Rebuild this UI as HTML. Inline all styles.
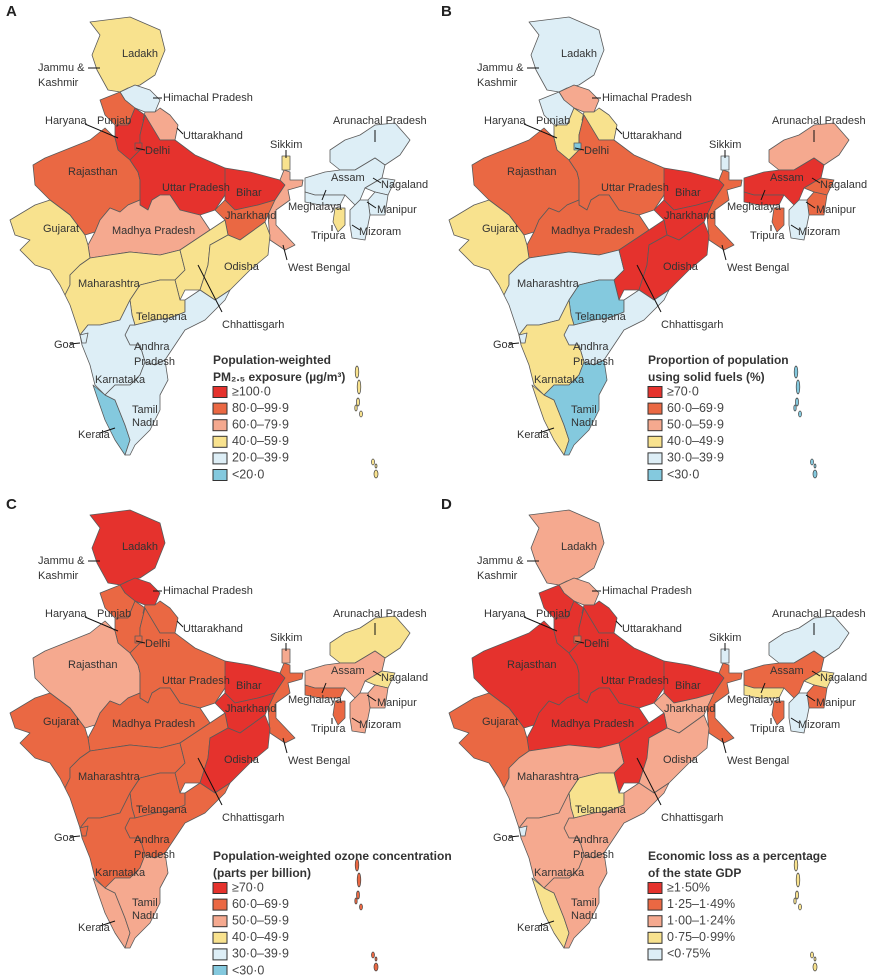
<!DOCTYPE html>
<html><head><meta charset="utf-8"><style>
body{margin:0;background:#fff;}
svg{display:block;font-family:"Liberation Sans",sans-serif;}
</style></head><body>
<svg id="c" width="870" height="975" viewBox="0 0 870 975"></svg>
<script>
const palette=["#e5322d","#ea6843","#f5a98f","#f8e28e","#ddeef6","#84c9de"];
const stateNames=["Jammu & Kashmir","Himachal Pradesh","Punjab","Haryana","Uttarakhand","Rajasthan","Uttar Pradesh","Bihar","Jharkhand","West Bengal","Sikkim","Madhya Pradesh","Gujarat","Maharashtra","Chhattisgarh","Odisha","Telangana","Andhra Pradesh","Karnataka","Goa","Kerala","Tamil Nadu","Arunachal Pradesh","Assam","Meghalaya","Nagaland","Manipur","Mizoram","Tripura","Delhi"];
const catsA=[3,4,1,0,2,1,0,0,1,2,3,2,3,3,3,3,3,4,4,4,5,4,4,4,4,4,4,4,3,0];
const catsB=[4,2,4,3,3,1,1,0,0,1,4,1,3,4,0,0,5,4,3,4,3,5,2,0,0,1,1,4,1,5];
const catsC=[0,0,1,1,1,2,1,0,0,1,2,1,1,1,1,0,1,1,1,1,2,2,3,2,1,3,2,2,1,1];
const catsD=[2,2,0,0,0,0,0,0,2,1,4,0,1,2,0,2,3,2,2,4,3,2,4,1,3,3,1,4,1,1];
const islandCats=[3,5,1,3];
const legA=["≥100·0","80·0–99·9","60·0–79·9","40·0–59·9","20·0–39·9","<20·0"];
const legB=["≥70·0","60·0–69·9","50·0–59·9","40·0–49·9","30·0–39·9","<30·0"];
const legC=["≥70·0","60·0–69·9","50·0–59·9","40·0–49·9","30·0–39·9","<30·0"];
const legD=["≥1·50%","1·25–1·49%","1·00–1·24%","0·75–0·99%","<0·75%"];

const shapes=[
[[90,22],[130,17],[160,30],[165,50],[155,75],[140,85],[128,88],[120,92],[108,90],[97,70],[92,55],[100,35]],
[[120,92],[135,85],[150,90],[160,100],[155,112],[145,112],[135,108],[125,100]],
[[100,100],[120,92],[125,100],[135,108],[128,125],[115,125],[105,115]],
[[115,125],[128,125],[135,108],[145,115],[140,135],[140,150],[130,160],[118,150],[115,138]],
[[145,112],[155,112],[160,108],[170,115],[178,125],[175,140],[160,140],[150,130],[143,120]],
[[33,165],[45,158],[60,152],[90,140],[105,128],[115,138],[118,150],[130,160],[138,172],[140,180],[140,200],[128,205],[120,212],[110,208],[100,220],[95,232],[85,235],[70,215],[50,200],[35,185]],
[[140,135],[145,115],[160,140],[175,140],[195,155],[225,168],[232,175],[225,195],[215,210],[200,215],[180,210],[170,195],[160,195],[152,200],[148,210],[140,205],[140,180],[138,172],[130,160],[140,150]],
[[225,168],[250,172],[280,180],[285,185],[275,200],[258,205],[235,210],[225,200]],
[[215,210],[225,200],[235,210],[258,205],[275,200],[268,215],[265,222],[240,240],[228,235],[225,220]],
[[280,180],[284,170],[290,172],[290,180],[303,180],[302,186],[288,190],[290,200],[276,210],[276,225],[295,245],[285,250],[270,240],[268,215],[275,200],[285,185]],
[[282,156],[290,156],[290,170],[282,170]],
[[95,232],[100,220],[110,208],[120,212],[128,205],[140,200],[140,205],[148,210],[152,200],[160,195],[170,195],[180,210],[200,215],[210,230],[195,240],[180,250],[160,255],[130,252],[110,255],[90,258],[88,245]],
[[10,220],[35,205],[50,200],[70,215],[85,235],[88,245],[90,258],[80,265],[70,275],[70,285],[65,295],[60,285],[50,270],[35,265],[20,250],[30,240],[15,235]],
[[65,295],[70,285],[70,275],[80,265],[90,258],[110,255],[130,252],[160,255],[180,250],[185,270],[175,280],[160,280],[140,285],[130,300],[120,320],[100,325],[88,325],[80,335],[75,320],[70,305]],
[[180,250],[195,240],[210,230],[225,220],[228,235],[210,245],[208,265],[200,290],[185,290],[180,300],[175,280],[185,270]],
[[208,265],[210,245],[228,235],[240,240],[265,222],[270,235],[268,255],[250,270],[230,290],[215,300],[200,290]],
[[130,300],[140,285],[160,280],[175,280],[180,300],[185,300],[185,312],[170,318],[155,320],[135,325],[132,315]],
[[185,312],[185,300],[200,290],[215,300],[230,290],[225,300],[205,320],[185,330],[175,345],[165,360],[155,365],[145,362],[140,345],[130,345],[125,335],[130,325],[135,325],[155,320],[170,318]],
[[88,325],[100,325],[120,320],[130,300],[132,315],[135,325],[130,325],[125,335],[130,345],[140,345],[145,362],[140,375],[130,385],[115,385],[105,395],[95,385],[90,365],[82,345],[80,335]],
[[80,335],[88,333],[86,343],[82,343]],
[[93,385],[105,395],[115,400],[125,425],[130,440],[125,455],[115,440],[105,420],[98,400]],
[[105,395],[115,385],[130,385],[140,375],[145,362],[155,365],[165,360],[168,380],[160,395],[160,410],[150,430],[135,445],[130,455],[125,455],[130,440],[125,425],[115,400]],
[[330,150],[345,140],[360,135],[375,125],[395,123],[410,140],[400,155],[385,165],[375,158],[355,170],[340,170],[330,162]],
[[305,178],[325,172],[340,170],[355,170],[375,158],[385,165],[382,178],[365,188],[360,200],[355,205],[345,195],[330,195],[315,195],[305,192]],
[[305,192],[315,195],[330,195],[345,195],[340,205],[320,205],[305,202]],
[[382,178],[395,180],[388,195],[375,192],[365,188]],
[[375,192],[388,195],[385,215],[370,215],[368,200]],
[[350,210],[360,200],[368,200],[370,215],[365,240],[352,238],[350,225]],
[[335,208],[345,208],[345,225],[338,232],[333,222]],
[[135,143],[142,143],[142,150],[135,150]]
];
const labels=[
["Ladakh",140,54,"middle"],["Jammu &",38,68,"start"],["Kashmir",38,83,"start"],["Himachal Pradesh",163,98,"start"],
["Haryana",45,121,"start"],["Punjab",97,121,"start"],["Delhi",145,151,"start"],["Uttarakhand",183,136,"start"],
["Arunachal Pradesh",333,121,"start"],["Sikkim",270,145,"start"],["Assam",331,178,"start"],["Nagaland",381,185,"start"],
["Meghalaya",288,207,"start"],["Manipur",377,210,"start"],["Tripura",311,236,"start"],["Mizoram",359,232,"start"],
["Rajasthan",68,172,"start"],["Uttar Pradesh",162,188,"start"],["Bihar",236,193,"start"],["Jharkhand",225,216,"start"],
["Gujarat",43,229,"start"],["Madhya Pradesh",112,231,"start"],["Odisha",224,267,"start"],["West Bengal",288,268,"start"],
["Maharashtra",78,284,"start"],["Telangana",136,317,"start"],["Chhattisgarh",222,325,"start"],["Goa",54,345,"start"],
["Andhra",134,347,"start"],["Pradesh",134,362,"start"],["Karnataka",95,380,"start"],["Tamil",132,410,"start"],["Nadu",132,423,"start"],["Kerala",78,435,"start"]
];
const leaders=[[88,68,100,68],[153,98,162,98],[85,124,118,138],[136,148,145,150],[177,128,183,134],[375,130,375,142],[286,150,286,158],[373,178,381,183],[326,190,322,200],[367,202,376,208],[332,225,332,231],[352,225,360,230],[283,245,287,260],[198,265,222,312],[70,344,80,343],[100,433,115,428]];
const islands=[[357,372,1.8,6],[359,387,1.8,7],[358,402,1.5,4],[356,408,1.2,3],[361,414,1.5,3],[373,462,1.5,3],[376,474,2,4],[376,466,1,2]];
const panels=[
{id:"a",letter:"A",dx:0,dy:0,cats:catsA,leg:legA,t1:"Population-weighted",t2:"PM₂.₅ exposure (µg/m³)",lx:213,ly:361},
{id:"b",letter:"B",dx:439,dy:0,cats:catsB,leg:legB,t1:"Proportion of population",t2:"using solid fuels (%)",lx:648,ly:361},
{id:"c",letter:"C",dx:0,dy:493,cats:catsC,leg:legC,t1:"Population-weighted ozone concentration",t2:"(parts per billion)",lx:213,ly:857},
{id:"d",letter:"D",dx:439,dy:493,cats:catsD,leg:legD,t1:"Economic loss as a percentage",t2:"of the state GDP",lx:648,ly:857}
];
const NS="http://www.w3.org/2000/svg";
const svg=document.getElementById("c");
function mk(tag,attrs,parent){const e=document.createElementNS(NS,tag);for(const k in attrs)e.setAttribute(k,attrs[k]);parent.appendChild(e);return e;}
panels.forEach((p,pi)=>{
  const g=mk("g",{transform:`translate(${p.dx},${p.dy})`},svg);
  
  
  const off=p.id==="b"||p.id==="d"?435:0;
  const L=mk("text",{x:6-(p.dx-off),y:16,"font-size":15,"font-weight":"bold",fill:"#222"},g);
  L.textContent=p.letter;
  
  
  shapes.forEach((s,i)=>{
    const pg=mk("polygon",{points:s.map(q=>q.join(",")).join(" "),fill:palette[p.cats[i]],stroke:"#5a5a5a","stroke-width":0.8,"stroke-linejoin":"round"},g);
    
    
  });
  islands.forEach(q=>{
    const e=mk("ellipse",{cx:q[0],cy:q[1],rx:q[2],ry:q[3],fill:palette[islandCats[pi]],stroke:"#444","stroke-width":0.7},g);
    
    
  });
  leaders.forEach(l=>{
    const ln=mk("line",{x1:l[0],y1:l[1],x2:l[2],y2:l[3],stroke:"#111","stroke-width":1},g);
    
    
  });
  labels.forEach(l=>{
    const t=mk("text",{x:l[1],y:l[2],"text-anchor":l[3],"dominant-baseline":"middle","font-size":11,fill:"#333"},g);
    t.textContent=l[0];
    
    
  });
  const lg=mk("g",{},svg);
  
  
  const t1=mk("text",{x:p.lx,y:p.ly,"font-size":12,"font-weight":"bold",fill:"#333","dominant-baseline":"middle"},lg);
  t1.textContent=p.t1;
  
  
  const t2=mk("text",{x:p.lx,y:p.ly+17,"font-size":12,"font-weight":"bold",fill:"#333","dominant-baseline":"middle"},lg);
  t2.textContent=p.t2;
  
  
  p.leg.forEach((s,i)=>{
    const y=p.ly+31+i*16.6;
    const r=mk("rect",{x:p.lx,y:y-5.5,width:14,height:11,fill:palette[i],stroke:"#333","stroke-width":1},lg);
    
    
    const t=mk("text",{x:p.lx+19,y:y,"font-size":12.5,fill:"#444","dominant-baseline":"middle"},lg);
    t.textContent=s;
    
    
  });
});
</script>
</body></html>
